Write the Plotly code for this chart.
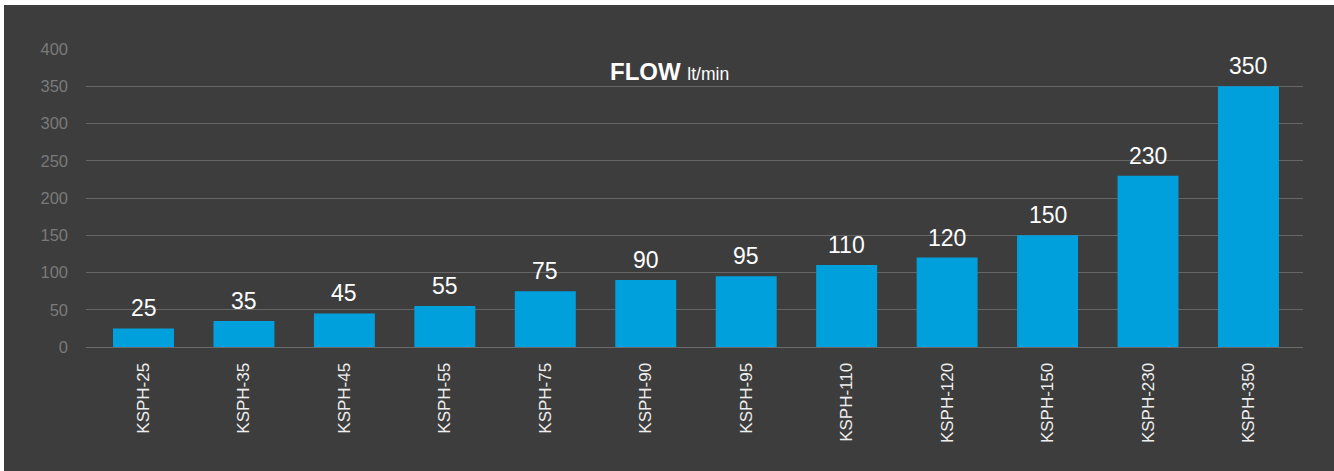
import plotly.graph_objects as go

categories = ["KSPH-25", "KSPH-35", "KSPH-45", "KSPH-55", "KSPH-75", "KSPH-90",
              "KSPH-95", "KSPH-110", "KSPH-120", "KSPH-150", "KSPH-230", "KSPH-350"]
flow = [25, 35, 45, 55, 75, 90, 95, 110, 120, 150, 230, 350]
y_ticks = [0, 50, 100, 150, 200, 250, 300, 350, 400]

BG = "#3d3d3d"
BAR = "#00a0dc"
W, H = 1334, 471
L, R, T, B = 86, 31, 49, 124
pw, ph = W - L - R, H - T - B

fig = go.Figure(go.Bar(
    x=list(range(len(categories))), y=flow,
    marker=dict(color=BAR, line=dict(width=0)),
    width=0.607,
))

value_labels = [dict(x=i, y=v, xref="x", yref="y", text=str(v), showarrow=False,
                     yanchor="bottom", xanchor="center", yshift=5,
                     font=dict(color="#ffffff", size=23, family="Liberation Sans, Arial"))
                for i, v in enumerate(flow)]

fig.update_layout(
    width=W, height=H,
    margin=dict(l=L, r=R, t=T, b=B, pad=0),
    paper_bgcolor=BG, plot_bgcolor=BG,
    showlegend=False,
    font=dict(family="Liberation Sans, Arial"),
    xaxis=dict(range=[-0.5724, 11.543], tickvals=list(range(len(categories))),
               ticktext=categories, showgrid=False, zeroline=False,
               showline=True, linecolor="#6a6a6a", linewidth=1,
               tickangle=-90, tickfont=dict(color="#eeeeee", size=17),
               ticks="", ticklabelstandoff=8),
    yaxis=dict(range=[0, 400], tickvals=y_ticks, showgrid=True, gridcolor="#666666",
               gridwidth=1, zeroline=False, showline=False,
               tickfont=dict(color="#7a7a7a", size=16.5), ticks="",
               ticklabelstandoff=17),
    annotations=value_labels + [dict(
        x=(669 - L) / pw, y=1 - (71 - T) / ph, xref="paper", yref="paper",
        text="<b>FLOW</b> <span style='font-size:17.5px'>lt/min</span>",
        showarrow=False, font=dict(color="#ffffff", size=24),
        xanchor="center", yanchor="middle")],
    shapes=[
        dict(type="rect", xref="paper", yref="paper", x0=-L / pw, x1=1 + R / pw,
             y0=1 + (T - 5) / ph, y1=1 + T / ph + 0.01, fillcolor="white", line=dict(width=0)),
        dict(type="rect", xref="paper", yref="paper", x0=-L / pw - 0.01, x1=-(L - 4) / pw,
             y0=-B / ph - 0.01, y1=1 + T / ph + 0.01, fillcolor="white", line=dict(width=0)),
    ],
)

fig.write_html("out.html")
